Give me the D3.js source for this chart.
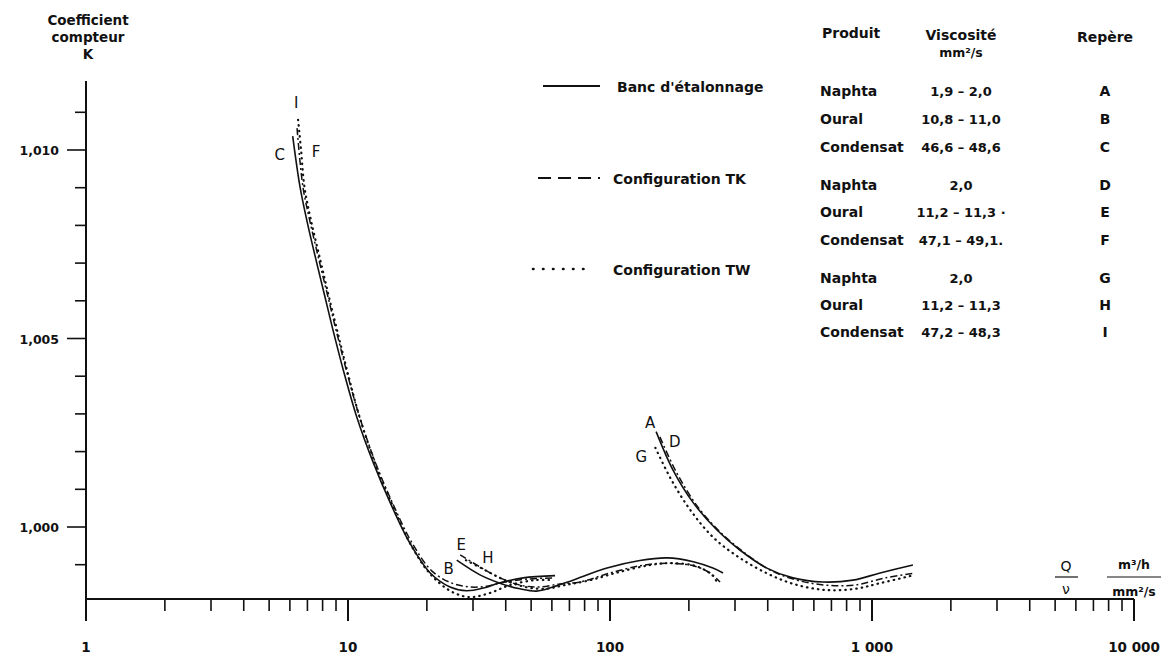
<!DOCTYPE html>
<html>
<head>
<meta charset="utf-8">
<script src="https://cdn.jsdelivr.net/npm/d3@7"></script>
<style>
  body { margin: 0; background: #fff; }
  svg text { font-family: "DejaVu Sans", "Liberation Sans", sans-serif; fill: #111; }
</style>
</head>
<body>
<div id="chart"></div>
<script>
// curves : [Q/v, K]
const condensatBanc = [[6.15,1.01037],[6.56,1.00902],[6.96,1.00814],[7.60,1.00700],[8.17,1.00610],[8.76,1.00523],[9.78,1.00395],[10.8,1.00292],[12.5,1.00170],[14.5,1.00064],[17.2,0.99958],[20.6,0.99878],[24.5,0.99841],[28.4,0.99831],[32.8,0.99838],[38.0,0.99852],[46.6,0.99865],[61.7,0.99871]];
const condensatTK = [[6.39,1.01058],[6.73,1.00902],[7.14,1.00814],[7.80,1.00700],[8.39,1.00610],[9.00,1.00523],[10.04,1.00395],[11.07,1.00292],[12.74,1.00170],[14.78,1.00064],[17.55,0.99958],[20.92,0.99883],[24.94,0.99851],[29.22,0.99841],[33.92,0.99843],[39.73,0.99854],[48.64,0.99862],[60.6,0.99865]];
const condensatTW = [[6.45,1.01080],[6.62,1.01000],[6.82,1.00902],[7.22,1.00814],[7.89,1.00700],[8.46,1.00610],[9.08,1.00523],[10.09,1.00395],[11.07,1.00292],[12.68,1.00170],[14.66,1.00064],[17.40,0.99952],[20.74,0.99873],[24.94,0.99828],[29.22,0.99814],[34.83,0.99825],[41.52,0.99846],[51.72,0.99859],[60.6,0.99859]];

const ouralBanc = [[26.0,0.99912],[31.9,0.99873],[38.0,0.99851],[45.3,0.99836],[52.5,0.99830],[60.6,0.99841],[72.2,0.99859],[97.4,0.99891],[130,0.99911],[165,0.99918],[208,0.99908],[247,0.99891],[270,0.99878]];
const ouralTK = [[26.8,0.99926],[31.9,0.99894],[38.0,0.99865],[45.3,0.99846],[54.1,0.99841],[64.4,0.99849],[76.8,0.99854],[100,0.99878],[130,0.99897],[165,0.99904],[208,0.99897],[241,0.99878],[263,0.99854]];
const ouralTW = [[28.2,0.99912],[33.3,0.99886],[39.7,0.99859],[47.4,0.99841],[56.5,0.99836],[67.3,0.99846],[84.0,0.99859],[109,0.99881],[142,0.99899],[169,0.99904],[211,0.99897],[245,0.99873],[258,0.99849]];

const naphtaBanc = [[150,1.00253],[174,1.00151],[208,1.00064],[256,0.99992],[313,0.99939],[397,0.99891],[499,0.99865],[650,0.99854],[846,0.99859],[1074,0.99878],[1433,0.99899]];
const naphtaTK = [[155,1.00239],[179,1.00146],[215,1.00056],[263,0.99987],[327,0.99931],[408,0.99886],[517,0.99859],[662,0.99846],[861,0.99846],[1122,0.99865],[1460,0.99878]];
const naphtaTW = [[149,1.00210],[171.5,1.00125],[205,1.00040],[249,0.99971],[310,0.99920],[395,0.99878],[501,0.99849],[662,0.99833],[861,0.99836],[1074,0.99851],[1460,0.99873]];

const xLabels = [[1,'1'],[10,'10'],[100,'100'],[1000,'1 000'],[10000,'10 000']];
const yLabels = [[1.000,'1,000'],[1.005,'1,005'],[1.010,'1,010']];

const legendNames = ["Banc d'étalonnage", 'Configuration TK', 'Configuration TW'];
const produits = ['Naphta', 'Oural', 'Condensat', 'Naphta', 'Oural', 'Condensat', 'Naphta', 'Oural', 'Condensat'];
const viscosites = ['1,9 – 2,0', '10,8 – 11,0', '46,6 – 48,6', '2,0', '11,2 – 11,3 ·', '47,1 – 49,1.', '2,0', '11,2 – 11,3', '47,2 – 48,3'];
const reperes = ['A', 'B', 'C', 'D', 'E', 'F', 'G', 'H', 'I'];

const width = 1169, height = 660;
const svg = d3.select('#chart').append('svg')
  .attr('width', width)
  .attr('height', height);

const x = d3.scaleLog().domain([1, 10000]).range([86, 1134]);
const y = d3.scaleLinear().domain([1.000, 1.010]).range([527, 150]);
const baseY = 599;

// line look for each config
const styles = {
  banc: { dash: null, w: 1.6, cap: 'butt' },
  tk: { dash: '7,3,2,3', w: 1.5, cap: 'butt' },
  tw: { dash: '0.5,5', w: 2.2, cap: 'round' }
};

// axes
svg.append('line')
  .attr('x1', x(1)).attr('x2', x(10000))
  .attr('y1', baseY).attr('y2', baseY)
  .attr('stroke', '#111').attr('stroke-width', 2);

svg.append('line')
  .attr('x1', x(1)).attr('x2', x(1))
  .attr('y1', 81).attr('y2', 621)
  .attr('stroke', '#111').attr('stroke-width', 2);

const isDecade = d => Math.abs(Math.log10(d) % 1) < 1e-9;
const xTicks = x.ticks().filter(d => d > 1);
svg.selectAll('.xtick')
  .data(xTicks)
  .enter().append('line')
  .attr('class', 'xtick')
  .attr('x1', d => x(d)).attr('x2', d => x(d))
  .attr('y1', baseY)
  .attr('y2', d => isDecade(d) ? 621 : 611)
  .attr('stroke', '#111')
  .attr('stroke-width', d => isDecade(d) ? 2 : 1.6);

svg.selectAll('.xlab')
  .data(xLabels)
  .enter().append('text')
  .attr('x', d => x(d[0]))
  .attr('y', 652)
  .attr('text-anchor', 'middle')
  .attr('font-size', 13.5)
  .attr('font-weight', 'bold')
  .text(d => d[1]);

const yTicks = d3.range(-1, 12).map(i => 1 + i / 1000);
svg.selectAll('.ytick')
  .data(yTicks)
  .enter().append('line')
  .attr('x1', d => yLabels.some(l => Math.abs(l[0] - d) < 1e-9) ? 67 : 75)
  .attr('x2', x(1))
  .attr('y1', d => y(d)).attr('y2', d => y(d))
  .attr('stroke', '#111').attr('stroke-width', 1.6);

svg.selectAll('.ylab')
  .data(yLabels)
  .enter().append('text')
  .attr('x', 59)
  .attr('y', d => y(d[0]) + 5)
  .attr('text-anchor', 'end')
  .attr('font-size', 12.5)
  .attr('font-weight', 'bold')
  .text(d => d[1]);

// axis titles
svg.append('text')
  .attr('x', 88).attr('y', 25)
  .attr('text-anchor', 'middle')
  .attr('font-size', 13.5).attr('font-weight', 'bold')
  .selectAll('tspan')
  .data(['Coefficient', 'compteur', 'K'])
  .enter().append('tspan')
  .attr('x', 88)
  .attr('dy', (d, i) => i === 0 ? 0 : 17)
  .text(d => d);

svg.append('text').attr('x', 1066).attr('y', 571).attr('text-anchor', 'middle')
  .attr('font-size', 14).text('Q');
svg.append('line').attr('x1', 1055).attr('x2', 1078).attr('y1', 577).attr('y2', 577)
  .attr('stroke', '#111').attr('stroke-width', 1.2);
svg.append('text').attr('x', 1066).attr('y', 594).attr('text-anchor', 'middle')
  .attr('font-size', 14).text('ν');
svg.append('text').attr('x', 1134).attr('y', 569).attr('text-anchor', 'middle')
  .attr('font-size', 12.5).attr('font-weight', 'bold').text('m³/h');
svg.append('line').attr('x1', 1107).attr('x2', 1161).attr('y1', 577).attr('y2', 577)
  .attr('stroke', '#111').attr('stroke-width', 1.2);
svg.append('text').attr('x', 1134).attr('y', 596).attr('text-anchor', 'middle')
  .attr('font-size', 12.5).attr('font-weight', 'bold').text('mm²/s');

// curves
const line = d3.line()
  .x(d => x(d[0]))
  .y(d => y(d[1]))
  .curve(d3.curveCatmullRom.alpha(0.5));

const curves = [
  { data: condensatBanc, s: 'banc', label: 'C', dx: -13, dy: 24 },
  { data: condensatTK, s: 'tk', label: 'F', dx: 19, dy: 29 },
  { data: condensatTW, s: 'tw', label: 'I', dx: -2, dy: -12 },
  { data: ouralBanc, s: 'banc', label: 'B', dx: -8, dy: 14 },
  { data: ouralTK, s: 'tk', label: 'E', dx: 1, dy: -5 },
  { data: ouralTW, s: 'tw', label: 'H', dx: 22, dy: 3 },
  { data: naphtaBanc, s: 'banc', label: 'A', dx: -6, dy: -4 },
  { data: naphtaTK, s: 'tk', label: 'D', dx: 15, dy: 10 },
  { data: naphtaTW, s: 'tw', label: 'G', dx: -14, dy: 14 }
];

svg.selectAll('.curve')
  .data(curves)
  .enter().append('path')
  .attr('class', 'curve')
  .attr('d', d => line(d.data))
  .attr('fill', 'none')
  .attr('stroke', '#111')
  .attr('stroke-width', d => styles[d.s].w)
  .attr('stroke-linecap', d => styles[d.s].cap)
  .attr('stroke-dasharray', d => styles[d.s].dash);

svg.selectAll('.plabel')
  .data(curves)
  .enter().append('text')
  .attr('x', d => x(d.data[0][0]) + d.dx)
  .attr('y', d => y(d.data[0][1]) + d.dy)
  .attr('text-anchor', 'middle')
  .attr('font-size', 15)
  .text(d => d.label);

// legend
const legendKeys = ['banc', 'tk', 'tw'];
const legendY = [86, 178, 269];
const legendDash = { banc: null, tk: '13,7', tw: '0.5,9.5' };
legendKeys.forEach((k, i) => {
  svg.append('line')
    .attr('x1', k === 'tw' ? 533 : (k === 'tk' ? 538 : 543))
    .attr('x2', k === 'tw' ? 588 : 600)
    .attr('y1', legendY[i]).attr('y2', legendY[i])
    .attr('stroke', '#111')
    .attr('stroke-width', k === 'tw' ? 2.6 : 2)
    .attr('stroke-linecap', k === 'tw' ? 'round' : 'butt')
    .attr('stroke-dasharray', legendDash[k]);
  svg.append('text')
    .attr('x', k === 'banc' ? 617 : 613)
    .attr('y', legendY[i] + 6)
    .attr('font-size', 14)
    .attr('font-weight', 'bold')
    .text(legendNames[i]);
});

// table
const colProd = 820, colVisc = 961, colRep = 1105;
svg.append('text').attr('x', colProd + 2).attr('y', 38).attr('font-size', 14).attr('font-weight', 'bold').text('Produit');
svg.append('text').attr('x', colVisc).attr('y', 40).attr('text-anchor', 'middle').attr('font-size', 14).attr('font-weight', 'bold').text('Viscosité');
svg.append('text').attr('x', colVisc).attr('y', 57).attr('text-anchor', 'middle').attr('font-size', 12.5).attr('font-weight', 'bold').text('mm²/s');
svg.append('text').attr('x', colRep).attr('y', 42).attr('text-anchor', 'middle').attr('font-size', 14).attr('font-weight', 'bold').text('Repère');

const rowY = [96, 124, 152, 190, 217, 245, 283, 310, 337];
svg.selectAll('.prod')
  .data(produits)
  .enter().append('text')
  .attr('x', colProd).attr('y', (d, i) => rowY[i])
  .attr('font-size', 14).attr('font-weight', 'bold')
  .text(d => d);
svg.selectAll('.visc')
  .data(viscosites)
  .enter().append('text')
  .attr('x', colVisc).attr('y', (d, i) => rowY[i])
  .attr('text-anchor', 'middle')
  .attr('font-size', 13).attr('font-weight', 'bold')
  .text(d => d);
svg.selectAll('.rep')
  .data(reperes)
  .enter().append('text')
  .attr('x', colRep).attr('y', (d, i) => rowY[i])
  .attr('text-anchor', 'middle')
  .attr('font-size', 14).attr('font-weight', 'bold')
  .text(d => d);
</script>
</body>
</html>
